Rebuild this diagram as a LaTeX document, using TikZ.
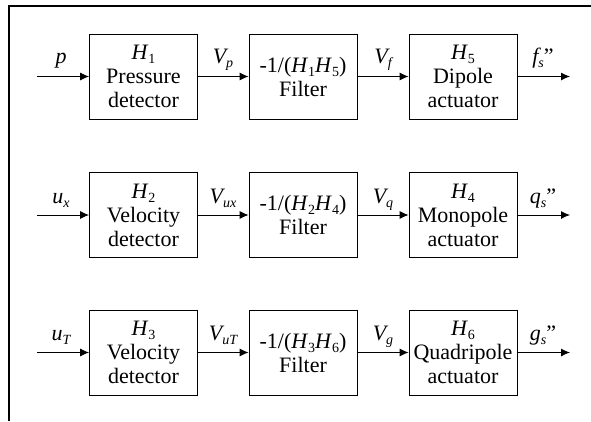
\documentclass[tikz,border=0pt]{standalone}
\usepackage{fontspec}
\setmainfont{Liberation Serif}
\usetikzlibrary{arrows.meta}
\newcommand{\lsb}[1]{\raisebox{-4pt}{\fontsize{14}{14}\selectfont #1}}
\newcommand{\dquo}{{\upshape\symbol{34}}}
\tikzset{
  blockbox/.style={draw, line width=0.8pt, minimum width=108pt, minimum height=85pt,
    inner sep=0pt, align=center, font=\fontsize{22}{24}\selectfont},
  sig/.style={line width=0.9pt, -{Latex[length=9pt,width=8pt]}},
  siglabel/.style={anchor=base, inner sep=0pt, font=\fontsize{22}{24}\selectfont\itshape},
  frameline/.style={line width=2.2pt}
}
\begin{document}
\begin{tikzpicture}[x=1pt,y=-1pt]
\useasboundingbox (0,0) rectangle (591,421);
\draw[frameline] (9,421) -- (9,6.3) -- (591,6.3);

% row 1
\node[blockbox] (d1) at (143.5,76.5) {\textit{H}\lsb{1}\\Pressure\\detector};
\node[blockbox] (f1) at (303,76.5) {-1/(\textit{H}\lsb{1}\textit{H}\lsb{5})\\Filter};
\node[blockbox] (a1) at (463,76.5) {\textit{H}\lsb{5}\\Dipole\\actuator};
\coordinate (i1) at (37,76.5);
\coordinate (o1) at (570,76.5);
\draw[sig] (i1) -- (d1);
\draw[sig] (d1) -- (f1);
\draw[sig] (f1) -- (a1);
\draw[sig] (a1) -- (o1);
\node[siglabel] (l11) at (61,63) {p};
\node[siglabel] (l12) at (223,63) {V\lsb{p}};
\node[siglabel] (l13) at (383,63) {V\lsb{f}};
\node[siglabel] (l14) at (543,63) {f\lsb{s}\dquo};

% row 2
\node[blockbox] (d2) at (143.5,215) {\textit{H}\lsb{2}\\Velocity\\detector};
\node[blockbox] (f2) at (303,215) {-1/(\textit{H}\lsb{2}\textit{H}\lsb{4})\\Filter};
\node[blockbox] (a2) at (463,215) {\textit{H}\lsb{4}\\Monopole\\actuator};
\coordinate (i2) at (37,215);
\coordinate (o2) at (570,215);
\draw[sig] (i2) -- (d2);
\draw[sig] (d2) -- (f2);
\draw[sig] (f2) -- (a2);
\draw[sig] (a2) -- (o2);
\node[siglabel] (l21) at (61,203) {u\lsb{x}};
\node[siglabel] (l22) at (223,203) {V\lsb{ux}};
\node[siglabel] (l23) at (383,203) {V\lsb{q}};
\node[siglabel] (l24) at (543,203) {q\lsb{s}\dquo};

% row 3
\node[blockbox] (d3) at (143.5,352.5) {\textit{H}\lsb{3}\\Velocity\\detector};
\node[blockbox] (f3) at (303,352.5) {-1/(\textit{H}\lsb{3}\textit{H}\lsb{6})\\Filter};
\node[blockbox] (a3) at (463,352.5) {\textit{H}\lsb{6}\\Quadripole\\actuator};
\coordinate (i3) at (37,352.5);
\coordinate (o3) at (570,352.5);
\draw[sig] (i3) -- (d3);
\draw[sig] (d3) -- (f3);
\draw[sig] (f3) -- (a3);
\draw[sig] (a3) -- (o3);
\node[siglabel] (l31) at (61,340) {u\lsb{T}};
\node[siglabel] (l32) at (223,340) {V\lsb{uT}};
\node[siglabel] (l33) at (383,340) {V\lsb{g}};
\node[siglabel] (l34) at (543,340) {g\lsb{s}\dquo};
\end{tikzpicture}
\end{document}
